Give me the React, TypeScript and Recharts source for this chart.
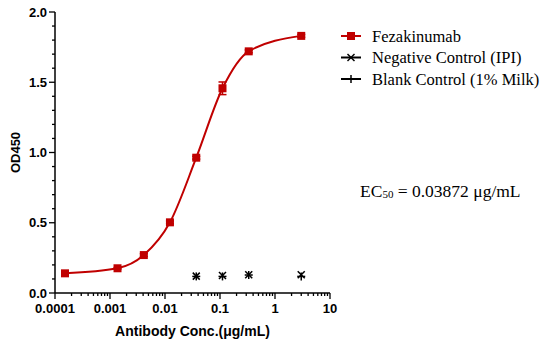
import React from 'react'
import {
  ComposedChart,
  Line,
  Scatter,
  XAxis,
  YAxis,
  ErrorBar
} from 'recharts'

// concentrations in µg/mL (3-fold dilution series)
const concentrations = [0.000152, 0.00137, 0.00412, 0.0123, 0.037, 0.111, 0.333, 3]
const fezakinumab = [0.14, 0.176, 0.27, 0.503, 0.963, 1.457, 1.72, 1.83]
const fezakinumabSd = [0.005, 0.005, 0.01, 0.01, 0.01, 0.045, 0.01, 0.01]

const controlConcentrations = [0.037, 0.111, 0.333, 3]
const negativeControl = [0.12, 0.125, 0.13, 0.13]
const blankControl = [0.118, 0.118, 0.128, 0.118]

const xMajorTicks = [0.0001, 0.001, 0.01, 0.1, 1, 10]
const xTickLabels = ['0.0001', '0.001', '0.01', '0.1', '1', '10']
const yMajorTicks = [0, 0.5, 1, 1.5, 2]
const yTickLabels = ['0.0', '0.5', '1.0', '1.5', '2.0']

const RED = '#C00000'

const fezData = concentrations.map((x, i) => ({ x, y: fezakinumab[i], err: fezakinumabSd[i] }))
const negData = controlConcentrations.map((x, i) => ({ x, y: negativeControl[i] }))
const blankData = controlConcentrations.map((x, i) => ({ x, y: blankControl[i] }))

// log axis minor ticks 2..9 per decade, linear minor ticks every 0.1
const xTicks: number[] = []
xMajorTicks.forEach((d, i) => {
  xTicks.push(d)
  if (i < xMajorTicks.length - 1) {
    for (let k = 2; k <= 9; k++) xTicks.push(+(d * k).toPrecision(6))
  }
})
const yTicks: number[] = []
for (let i = 0; i <= 20; i++) yTicks.push(+(i / 10).toFixed(1))

const tickFont = {
  fontFamily: 'Arial, "Liberation Sans", sans-serif',
  fontWeight: 700,
  fontSize: 13,
  fill: '#000'
}
const serif = '"Liberation Serif", "Times New Roman", serif'

function XTick({ x, y, payload }: any) {
  const v = payload.value
  const idx = xMajorTicks.findIndex((m) => Math.abs(m - v) / m < 1e-6)
  const major = idx >= 0
  return (
    <g>
      <line x1={x} x2={x} y1={y} y2={y + (major ? 6 : 3)} stroke="#000" strokeWidth={1.3} />
      {major && (
        <text x={x} y={y + 20} textAnchor="middle" {...tickFont}>
          {xTickLabels[idx]}
        </text>
      )}
    </g>
  )
}

function YTick({ x, y, payload }: any) {
  const v = payload.value
  const idx = yMajorTicks.findIndex((m) => Math.abs(m - v) < 1e-6)
  const major = idx >= 0
  return (
    <g>
      <line x1={x} x2={x - (major ? 6 : 3)} y1={y} y2={y} stroke="#000" strokeWidth={1.3} />
      {major && (
        <text x={x - 8} y={y + 4.5} textAnchor="end" {...tickFont}>
          {yTickLabels[idx]}
        </text>
      )}
    </g>
  )
}

const Square = (props: any) => {
  const { cx, cy, index } = props
  if (cx == null || cy == null) return null
  return <rect key={`sq-${index}`} x={cx - 4} y={cy - 4} width={8} height={8} fill={RED} />
}

const Cross = ({ cx, cy }: any) => (
  <g stroke="#000" strokeWidth={1.5}>
    <line x1={cx - 3.5} y1={cy - 3.5} x2={cx + 3.5} y2={cy + 3.5} />
    <line x1={cx - 3.5} y1={cy + 3.5} x2={cx + 3.5} y2={cy - 3.5} />
  </g>
)

const Plus = ({ cx, cy }: any) => (
  <g stroke="#000" strokeWidth={1.5}>
    <line x1={cx - 4} y1={cy} x2={cx + 4} y2={cy} />
    <line x1={cx} y1={cy - 4} x2={cx} y2={cy + 4} />
  </g>
)

const legendItems = [
  { name: 'Fezakinumab', kind: 'square' },
  { name: 'Negative Control (IPI)', kind: 'cross' },
  { name: 'Blank Control (1% Milk)', kind: 'plus' }
]

function ChartLegend() {
  return (
    <svg width={205} height={70} style={{ position: 'absolute', left: 335, top: 26 }}>
      {legendItems.map((item, i) => {
        const cy = 10 + i * 21.5
        const color = item.kind === 'square' ? RED : '#000'
        return (
          <g key={item.name}>
            <line x1={6} x2={26} y1={cy} y2={cy} stroke={color} strokeWidth={2} />
            {item.kind === 'square' && <Square cx={16} cy={cy} />}
            {item.kind === 'cross' && <Cross cx={16} cy={cy} />}
            {item.kind === 'plus' && <Plus cx={16} cy={cy} />}
            <text x={37} y={cy + 5.5} fontFamily={serif} fontSize={16.5} fill="#000">
              {item.name}
            </text>
          </g>
        )
      })}
    </svg>
  )
}

function Ec50Note() {
  return (
    <svg width={180} height={30} style={{ position: 'absolute', left: 355, top: 177 }}>
      <text x={5} y={20} fontFamily={serif} fontSize={17.5} fill="#000">
        EC
        <tspan fontSize={11} dy={1}>50</tspan>
        <tspan dy={-1}> = 0.03872 μg/mL</tspan>
      </text>
    </svg>
  )
}

export default function App() {
  return (
    <div style={{ position: 'absolute', left: 0, top: 0, width: 540, height: 358, background: '#fff' }}>
      <ComposedChart
        width={540}
        height={358}
        margin={{ top: 12, right: 210, bottom: 0, left: 0 }}
      >
        <XAxis
          dataKey="x"
          type="number"
          scale="log"
          domain={[0.0001, 10]}
          allowDataOverflow
          ticks={xTicks}
          interval={0}
          tick={<XTick />}
          tickLine={false}
          tickSize={0}
          tickMargin={0}
          height={65}
          axisLine={{ stroke: '#000', strokeWidth: 1.5 }}
          label={{
            content: ({ viewBox }: any) => (
              <text
                x={viewBox.x + viewBox.width / 2}
                y={viewBox.y + 43}
                textAnchor="middle"
                {...tickFont}
                fontSize={14}
              >
                Antibody Conc.(μg/mL)
              </text>
            )
          }}
        />
        <YAxis
          type="number"
          domain={[0, 2]}
          ticks={yTicks}
          interval={0}
          tick={<YTick />}
          tickLine={false}
          tickSize={0}
          tickMargin={0}
          width={55}
          axisLine={{ stroke: '#000', strokeWidth: 1.5 }}
          label={{
            content: ({ viewBox }: any) => {
              const cx = 15
              const cy = viewBox.y + viewBox.height / 2
              return (
                <text
                  x={cx}
                  y={cy}
                  transform={`rotate(-90 ${cx} ${cy})`}
                  textAnchor="middle"
                  dominantBaseline="central"
                  {...tickFont}
                >
                  OD450
                </text>
              )
            }
          }}
        />
        <Line
          data={fezData}
          dataKey="y"
          name="Fezakinumab"
          type="monotone"
          stroke={RED}
          strokeWidth={2}
          dot={Square}
          activeDot={false}
          isAnimationActive={false}
        >
          <ErrorBar dataKey="err" direction="y" width={4} stroke={RED} strokeWidth={1.5} />
        </Line>
        <Scatter
          data={negData}
          dataKey="y"
          name="Negative Control (IPI)"
          shape={Cross}
          isAnimationActive={false}
        />
        <Scatter
          data={blankData}
          dataKey="y"
          name="Blank Control (1% Milk)"
          shape={Plus}
          isAnimationActive={false}
        />
      </ComposedChart>
      <ChartLegend />
      <Ec50Note />
    </div>
  )
}
